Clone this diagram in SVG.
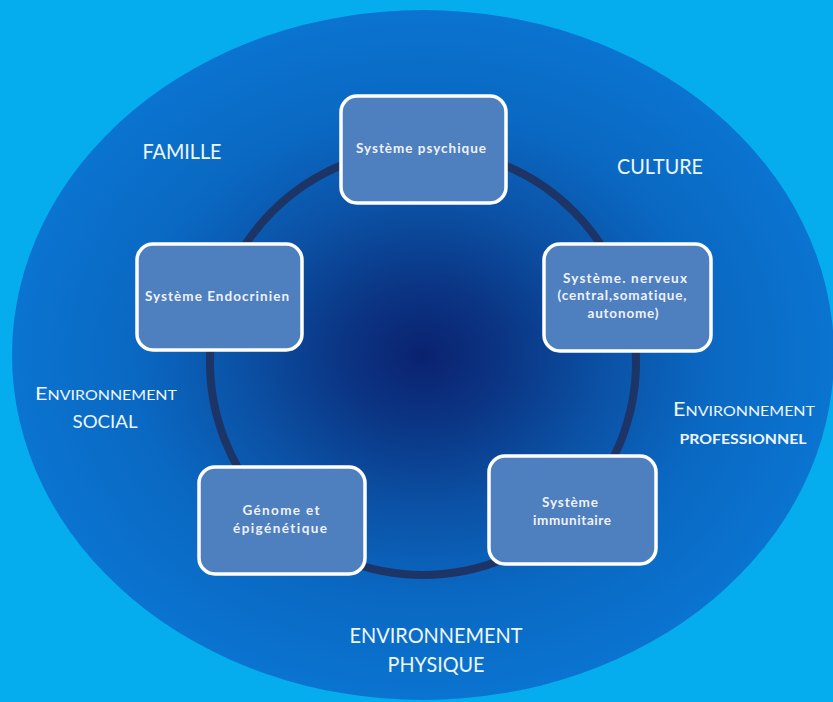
<svg xmlns="http://www.w3.org/2000/svg" width="833" height="702" viewBox="0 0 833 702">
<defs>
<radialGradient id="bg" cx="0.5" cy="0.5" r="0.5" fx="0.5" fy="0.5">
<stop offset="0" stop-color="#0a2270"/>
<stop offset="0.2" stop-color="#0b3584"/>
<stop offset="0.45" stop-color="#0b52a6"/>
<stop offset="0.7" stop-color="#0a68c2"/>
<stop offset="1" stop-color="#0a74d0"/>
</radialGradient>
<style>
.box{fill:#4e7fbf;stroke:#ffffff;stroke-width:3.5}
.bt{font-family:Lato,"Open Sans","Liberation Sans",sans-serif;font-weight:bold;font-size:13.5px;fill:#eef2fa;text-anchor:middle;font-variant-ligatures:none}
.lb{font-family:Lato,"Open Sans","Liberation Sans",sans-serif;fill:#eef6fc;text-anchor:middle;font-variant-ligatures:none}
.ring{fill:none;stroke:#1d3566;stroke-width:8}
</style>
</defs>
<rect width="833" height="702" fill="#05adef"/>
<ellipse cx="423" cy="355" rx="411" ry="345" fill="url(#bg)"/>
<g id="connectors">
<circle class="ring" cx="423" cy="362" r="213"/>
</g>
<g id="node-psychique">
<rect class="box" x="341" y="96" width="165" height="107" rx="16"/>
<text class="bt" x="421" y="153" textLength="130" lengthAdjust="spacing">Système psychique</text>
</g>
<g id="node-nerveux">
<rect class="box" x="544" y="244" width="167" height="107" rx="16"/>
<text class="bt" x="625" y="283" textLength="124" lengthAdjust="spacing">Système. nerveux</text>
<text class="bt" x="622" y="300" textLength="129" lengthAdjust="spacing">(central,somatique,</text>
<text class="bt" x="623" y="318" textLength="71" lengthAdjust="spacing">autonome)</text>
</g>
<g id="node-immunitaire">
<rect class="box" x="489" y="456" width="167" height="108" rx="16"/>
<text class="bt" x="570" y="507" textLength="56" lengthAdjust="spacing">Système</text>
<text class="bt" x="572" y="525" textLength="78" lengthAdjust="spacing">immunitaire</text>
</g>
<g id="node-genome">
<rect class="box" x="199" y="467" width="166" height="107" rx="16"/>
<text class="bt" x="281" y="515" textLength="77" lengthAdjust="spacing">Génome et</text>
<text class="bt" x="280" y="533" textLength="94" lengthAdjust="spacing">épigénétique</text>
</g>
<g id="node-endocrinien">
<rect class="box" x="137" y="244" width="165" height="106" rx="16"/>
<text class="bt" x="217" y="301" textLength="144" lengthAdjust="spacing">Système Endocrinien</text>
</g>
<g id="labels">
<text class="lb" x="182" y="159" font-size="21" textLength="79" lengthAdjust="spacingAndGlyphs">FAMILLE</text>
<text class="lb" x="660" y="174" font-size="21" textLength="86" lengthAdjust="spacingAndGlyphs">CULTURE</text>
<text class="lb" x="106" y="400" textLength="142" lengthAdjust="spacingAndGlyphs"><tspan font-size="17">E</tspan><tspan font-size="12.5">NVIRONNEMENT</tspan></text>
<text class="lb" x="105" y="428" font-size="18" textLength="65" lengthAdjust="spacingAndGlyphs">SOCIAL</text>
<text class="lb" x="744" y="416" textLength="142" lengthAdjust="spacingAndGlyphs"><tspan font-size="19">E</tspan><tspan font-size="14">NVIRONNEMENT</tspan></text>
<text class="lb" x="743" y="444" font-size="14" font-weight="bold" textLength="127" lengthAdjust="spacingAndGlyphs">PROFESSIONNEL</text>
<text class="lb" x="436" y="643" font-size="21" textLength="173" lengthAdjust="spacingAndGlyphs">ENVIRONNEMENT</text>
<text class="lb" x="436" y="672" font-size="21" textLength="97" lengthAdjust="spacingAndGlyphs">PHYSIQUE</text>
</g>
</svg>
